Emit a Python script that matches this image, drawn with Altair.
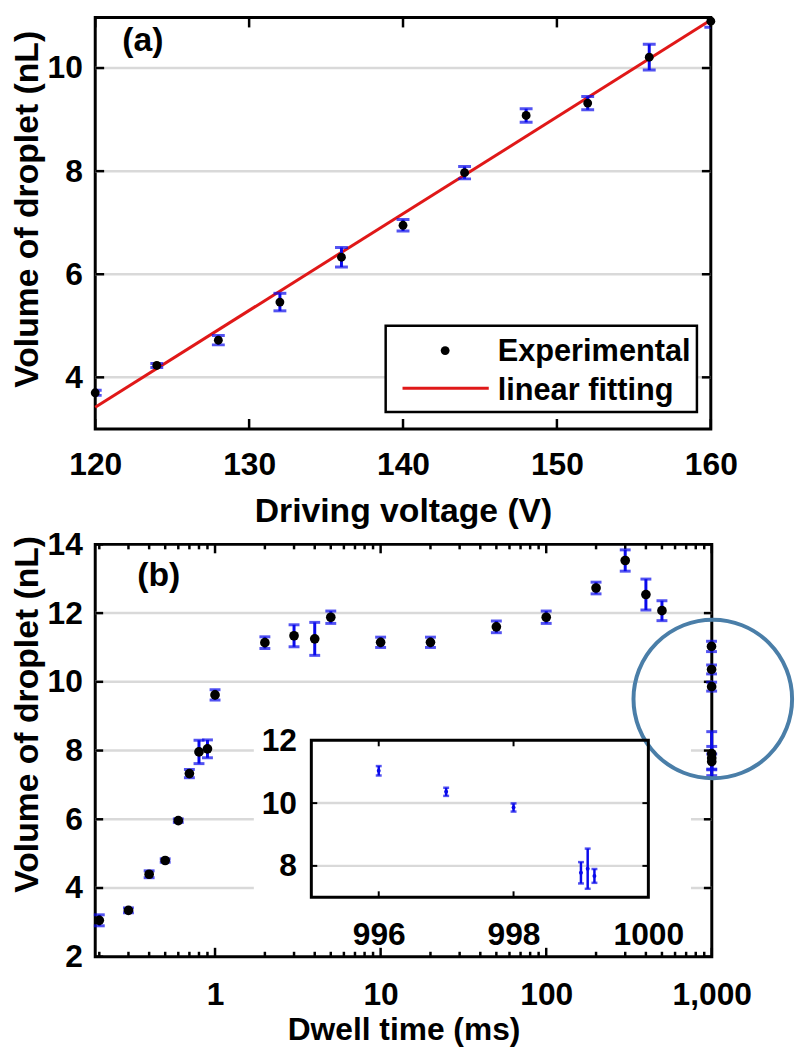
import altair as alt
import pandas as pd

FONT = "Liberation Sans"
BLUE = "#0a0aeb"
RED = "#e01818"
GRID = "#d9d9d9"
CIRCLE = "#4a7ea8"

# ---------------- panel (a) data ----------------
voltage = [120, 124, 128, 132, 136, 140, 144, 148, 152, 156, 160]
volume_a = [3.70, 4.23, 4.72, 5.46, 6.33, 6.95, 7.97, 9.08, 9.32, 10.21, 10.91]
error_a = [0.05, 0.04, 0.09, 0.17, 0.19, 0.11, 0.12, 0.13, 0.13, 0.25, 0.12]
fit_voltage = [120, 160]
fit_volume = [3.42, 10.93]
ticks_x_a = [120, 130, 140, 150, 160]
ticks_y_a = [4, 6, 8, 10]
legend_labels = ["Experimental", "linear fitting"]

# ---------------- panel (b) data ----------------
dwell = [0.2, 0.3, 0.4, 0.5, 0.6, 0.7, 0.8, 0.9, 1, 2, 3, 4, 5, 10, 20, 50, 100, 200, 300, 400, 500]
volume_b = [3.06, 3.35, 4.40, 4.80, 5.96, 7.33, 7.96, 8.05, 9.62, 11.14, 11.34, 11.25, 11.88,
            11.15, 11.15, 11.60, 11.88, 12.73, 13.53, 12.54, 12.07]
error_b = [0.16, 0.07, 0.10, 0.05, 0.05, 0.12, 0.34, 0.26, 0.15, 0.17, 0.32, 0.48, 0.18,
           0.15, 0.15, 0.17, 0.18, 0.17, 0.31, 0.45, 0.29]
dwell_end = [996, 997, 998, 999.0, 999.1, 999.2]
volume_end = [11.03, 10.36, 9.86, 7.78, 7.91, 7.68]
error_end = [0.15, 0.13, 0.13, 0.34, 0.64, 0.22]
ticks_x_b_major = [1, 10, 100, 1000]
ticks_x_b_minor = [0.2, 0.3, 0.4, 0.5, 0.6, 0.7, 0.8, 0.9,
                   2, 3, 4, 5, 6, 7, 8, 9,
                   20, 30, 40, 50, 60, 70, 80, 90,
                   200, 300, 400, 500, 600, 700, 800, 900]
ticks_y_b = [2, 4, 6, 8, 10, 12, 14]
grid_y_b = [4, 6, 8, 10, 12]
ticks_x_inset = [996, 998, 1000]
ticks_y_inset = [8, 10, 12]
inner_ticks_x_inset = [996, 998]
inner_ticks_y_inset = [8, 10]
grid_y_inset = [8, 10]
highlight_dwell = [1014]
highlight_volume = [9.5]


def label_axis(orient, values, pad, title=None, title_pad=0, offset=0, fmt=None,
               title_size=None, title_top=None):
    kw = dict(orient=orient, values=values, ticks=False, tickSize=0, domain=False, grid=False,
              labelPadding=pad, labelFlush=False, labelOverlap=False, zindex=1,
              offset=offset, title=title)
    if title:
        kw["titlePadding"] = title_pad
    if title_size:
        kw["titleFontSize"] = title_size
    if title_top is not None:
        # vertical title anchored at its upper end, running downwards
        kw["titleY"] = title_top
        kw["titleAlign"] = "right"
    if fmt:
        kw["format"] = fmt
    return alt.Axis(**kw)


def x_ticks(values, scale, y_edge, length, width=2.5):
    """inward tick marks on a horizontal edge (length sign gives direction)"""
    return alt.Chart(pd.DataFrame({"t": values})).mark_rule(color="black", strokeWidth=width).encode(
        x=alt.X("t:Q", scale=scale, axis=None), y=alt.value(y_edge), y2=alt.value(y_edge + length))


def y_ticks(values, scale, x_edge, length, width=2.5):
    """inward tick marks on a vertical edge (length sign gives direction)"""
    return alt.Chart(pd.DataFrame({"t": values})).mark_rule(color="black", strokeWidth=width).encode(
        y=alt.Y("t:Q", scale=scale, axis=None), x=alt.value(x_edge), x2=alt.value(x_edge + length))


one = pd.DataFrame({"k": [0]})

# =============== panel (a) ===============
W_A, H_A = 621, 415
sx_a = alt.Scale(domain=[120, 160], nice=False, zero=False)
sy_a = alt.Scale(domain=[3, 10.98], nice=False, zero=False)
df_a = pd.DataFrame({"voltage": voltage, "volume": volume_a, "error": error_a})
df_fit = pd.DataFrame({"voltage": fit_voltage, "volume": fit_volume})
df_grid_a = pd.DataFrame({"g": ticks_y_a})


def xa(axis=None):
    return alt.X("voltage:Q", scale=sx_a, axis=axis)


def ya(axis=None):
    return alt.Y("volume:Q", scale=sy_a, axis=axis)


grid_a = alt.Chart(df_grid_a).mark_rule(color=GRID, strokeWidth=2.5).encode(
    y=alt.Y("g:Q", scale=sy_a, axis=None))
fit_a = alt.Chart(df_fit).mark_line(color=RED, strokeWidth=3).encode(x=xa(), y=ya())
err_a = alt.Chart(df_a).mark_errorbar(ticks=True, size=13, thickness=3, color=BLUE, clip=True).encode(
    x=xa(), y=ya(), yError="error:Q")
pts_a = alt.Chart(df_a).mark_circle(size=80, color="black", opacity=1).encode(
    x=xa(label_axis("bottom", ticks_x_a, 21, "Driving voltage (V)", 14)),
    y=ya(label_axis("left", ticks_y_a, 13, "Volume of droplet (nL)", 3, title_top=13)))

tk_a = [
    x_ticks(ticks_x_a, sx_a, H_A, -10),
    x_ticks(ticks_x_a, sx_a, 0, 10),
    y_ticks(ticks_y_a, sy_a, 0, 9),
    y_ticks(ticks_y_a, sy_a, W_A, -9),
]

leg_box = alt.Chart(one).mark_rect(fill="white", stroke="black", strokeWidth=2.5).encode(
    x=alt.value(293), x2=alt.value(607), y=alt.value(311), y2=alt.value(398))
leg_dot = alt.Chart(one).mark_circle(size=80, color="black", opacity=1).encode(
    x=alt.value(353), y=alt.value(336))
leg_line = alt.Chart(one).mark_rule(color=RED, strokeWidth=3).encode(
    x=alt.value(310), x2=alt.value(397), y=alt.value(374))
leg_t1 = alt.Chart(pd.DataFrame({"label": [legend_labels[0]]})).mark_text(
    align="left", baseline="middle", font=FONT, fontSize=31, fontWeight="bold", color="black").encode(
    text="label:N", x=alt.value(406), y=alt.value(338))
leg_t2 = alt.Chart(pd.DataFrame({"label": [legend_labels[1]]})).mark_text(
    align="left", baseline="middle", font=FONT, fontSize=31, fontWeight="bold", color="black").encode(
    text="label:N", x=alt.value(406), y=alt.value(377))
tag_a = alt.Chart(pd.DataFrame({"t": ["(a)"]})).mark_text(
    align="center", baseline="middle", font=FONT, fontSize=34, fontWeight="bold", color="black").encode(
    text="t:N", x=alt.value(48), y=alt.value(24))

chart_a = alt.layer(grid_a, fit_a, err_a, pts_a, *tk_a, leg_box, leg_dot, leg_line, leg_t1, leg_t2,
                    tag_a).resolve_axis(x="independent", y="independent").properties(width=W_A, height=H_A)

# =============== panel (b) ===============
W_B, H_B = 622, 416
IN_L, IN_R, IN_T, IN_B = 218, 558, 197.7, 356
sx_b = alt.Scale(type="log", domain=[0.189, 1000], nice=False)
sy_b = alt.Scale(domain=[2, 14], nice=False, zero=False)
sx_in = alt.Scale(domain=[995, 1000], range=[IN_L, IN_R], nice=False, zero=False)
sy_in = alt.Scale(domain=[7, 12], range=[IN_B, IN_T], nice=False, zero=False)

df_b = pd.DataFrame({"dwell": dwell + dwell_end, "volume": volume_b + volume_end,
                     "error": error_b + error_end})
df_end = pd.DataFrame({"dwell": dwell_end, "volume": volume_end, "error": error_end})
df_grid_b = pd.DataFrame({"g": grid_y_b})
df_hl = pd.DataFrame({"dwell": highlight_dwell, "volume": highlight_volume})


def xb(axis=None):
    return alt.X("dwell:Q", scale=sx_b, axis=axis)


def yb(axis=None):
    return alt.Y("volume:Q", scale=sy_b, axis=axis)


def xi(axis=None):
    return alt.X("dwell:Q", scale=sx_in, axis=axis)


def yi(axis=None):
    return alt.Y("volume:Q", scale=sy_in, axis=axis)


grid_b = alt.Chart(df_grid_b).mark_rule(color=GRID, strokeWidth=2.5).encode(
    y=alt.Y("g:Q", scale=sy_b, axis=None))
mask_b = alt.Chart(one).mark_rect(fill="white").encode(
    x=alt.value(160), x2=alt.value(601), y=alt.value(171), y2=alt.value(406))
tk_b = [
    x_ticks(ticks_x_b_major, sx_b, H_B, -9),
    x_ticks(ticks_x_b_major, sx_b, 0, 9),
    x_ticks(ticks_x_b_minor, sx_b, H_B, -5),
    x_ticks(ticks_x_b_minor, sx_b, 0, 5),
    y_ticks(ticks_y_b, sy_b, 0, 8),
    y_ticks(ticks_y_b, sy_b, W_B, -8),
]
err_b = alt.Chart(df_b).mark_errorbar(ticks=True, size=11, thickness=3, color=BLUE).encode(
    x=xb(), y=yb(), yError="error:Q")
pts_b = alt.Chart(df_b).mark_circle(size=95, color="black", opacity=1).encode(
    x=xb(label_axis("bottom", ticks_x_b_major, 23, "Dwell time (ms)", 5, fmt=",", title_size=32)),
    y=yb(label_axis("left", ticks_y_b, 13, "Volume of droplet (nL)", 3, title_top=-9)))
ring_b = alt.Chart(df_hl).mark_point(shape="circle", size=25600, color=CIRCLE, strokeWidth=4,
                                      filled=False, opacity=1).encode(x=xb(), y=yb())
tag_b = alt.Chart(pd.DataFrame({"t": ["(b)"]})).mark_text(
    align="center", baseline="middle", font=FONT, fontSize=34, fontWeight="bold", color="black").encode(
    text="t:N", x=alt.value(64), y=alt.value(32))

main_b = alt.layer(grid_b, mask_b, *tk_b, err_b, pts_b, ring_b, tag_b).resolve_axis(
    x="independent", y="independent")

# inset
grid_in = alt.Chart(pd.DataFrame({"g": grid_y_inset})).mark_rule(color=GRID, strokeWidth=2.5).encode(
    y=alt.Y("g:Q", scale=sy_in, axis=None),
    x=alt.XDatum(995, type="quantitative", scale=sx_in, axis=None),
    x2=alt.X2Datum(1000))
frame_in = alt.Chart(one).mark_rect(fillOpacity=0, stroke="black", strokeWidth=3).encode(
    x=alt.XDatum(995, type="quantitative", scale=sx_in, axis=None), x2=alt.X2Datum(1000),
    y=alt.YDatum(7, type="quantitative", scale=sy_in, axis=None), y2=alt.Y2Datum(12))
tk_in = [
    x_ticks(inner_ticks_x_inset, sx_in, IN_B, -6, 2),
    x_ticks(inner_ticks_x_inset, sx_in, IN_T, 6, 2),
    y_ticks(inner_ticks_y_inset, sy_in, IN_L, 6, 2),
    y_ticks(inner_ticks_y_inset, sy_in, IN_R, -6, 2),
]
err_in = alt.Chart(df_end).mark_errorbar(ticks=True, size=6, thickness=2.5, color=BLUE).encode(
    x=xi(), y=yi(), yError="error:Q")
pts_in = alt.Chart(df_end).mark_circle(size=16, color=BLUE, opacity=1).encode(
    x=xi(label_axis("bottom", ticks_x_inset, 23, offset=-(H_B - IN_B), fmt="d")),
    y=yi(label_axis("left", ticks_y_inset, 15, offset=-IN_L)))

inset = alt.layer(grid_in, frame_in, *tk_in, err_in, pts_in).resolve_axis(
    x="independent", y="independent")

chart_b = alt.layer(main_b, inset).resolve_scale(x="independent", y="independent").properties(
    width=W_B, height=H_B)

# plot areas are laid out flush: gap between (a)'s frame bottom and (b)'s frame top
chart = alt.vconcat(chart_a, chart_b, spacing=116.5, bounds="flush").properties(
    padding=0, background="white"
).configure_view(
    stroke="black", strokeWidth=3
).configure_axis(
    labelFont=FONT, titleFont=FONT, labelFontSize=32, titleFontSize=34,
    labelFontWeight="bold", titleFontWeight="bold", labelColor="black", titleColor="black"
)

chart.save("out.html", embed_options={"renderer": "svg", "actions": False})
